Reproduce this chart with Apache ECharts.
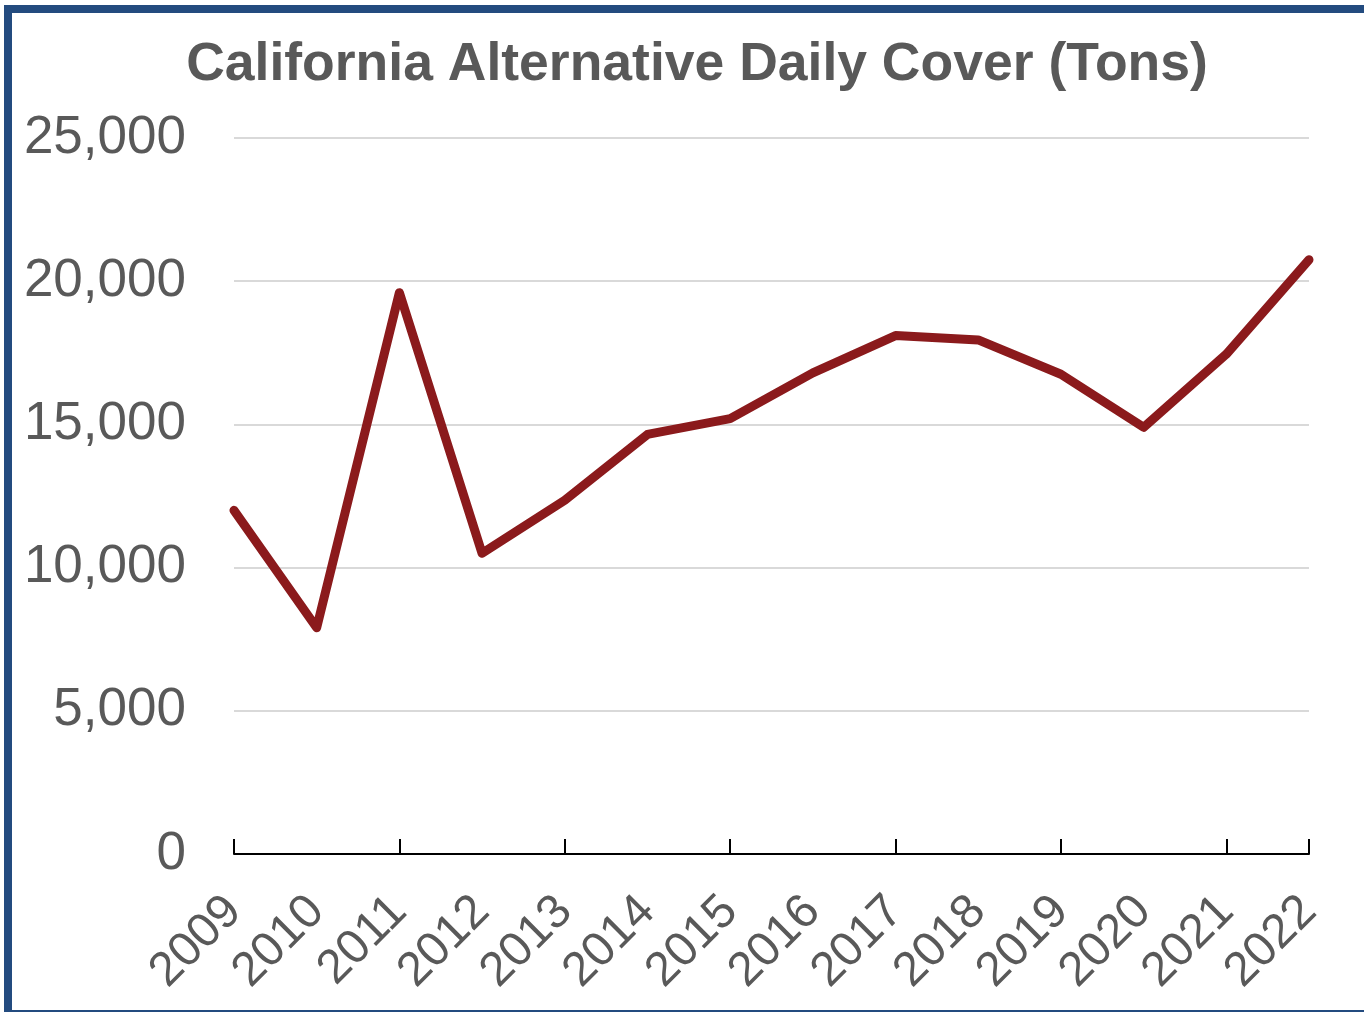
<!DOCTYPE html>
<html>
<head>
<meta charset="utf-8">
<script src="https://cdn.jsdelivr.net/npm/echarts@6/dist/echarts.min.js"></script>
<style>
html,body{margin:0;padding:0;background:#fff;overflow:hidden;width:1364px;height:1012px;}
#frame{position:absolute;left:4px;top:5px;width:1360px;height:1013px;border:8px solid #234B7F;border-right-width:0;box-sizing:border-box;}
#chart{position:absolute;left:0;top:0;width:1364px;height:1012px;}
</style>
</head>
<body>
<div id="frame"></div>
<div id="chart"></div>
<script>
const years = ['2009','2010','2011','2012','2013','2014','2015','2016','2017','2018','2019','2020','2021','2022'];
const tons = [12000, 7900, 19600, 10500, 12350, 14650, 15200, 16800, 18100, 17950, 16750, 14900, 17450, 20750];
const yTicks = [0, 5000, 10000, 15000, 20000, 25000];

const chart = echarts.init(document.getElementById('chart'), null, {renderer: 'canvas'});
chart.setOption({
  backgroundColor: 'transparent',
  animation: false,
  title: {
    text: 'California Alternative Daily Cover (Tons)',
    left: 692, textAlign: 'center', top: 33,
    textStyle: {fontFamily: 'Liberation Sans, Arial, sans-serif', fontWeight: 'bold', fontSize: 53.5, color: '#595959'}
  },
  grid: {left: 234, right: 55, top: 138, bottom: 158, containLabel: false},
  xAxis: {
    type: 'category', data: years, boundaryGap: false,
    axisLine: {lineStyle: {color: '#000', width: 2}},
    axisTick: {show: true, inside: true, length: 15, interval: 1, lineStyle: {color: '#000', width: 2}},
    axisLabel: {interval: 0, rotate: 45, margin: 50, fontFamily: 'Liberation Sans, Arial, sans-serif', fontSize: 48, color: '#595959'},
    splitLine: {show: false}
  },
  yAxis: {
    type: 'value', min: yTicks[0], max: yTicks[yTicks.length-1], interval: 5000,
    axisLine: {show: false}, axisTick: {show: false},
    axisLabel: {margin: 48, fontFamily: 'Liberation Sans, Arial, sans-serif', fontSize: 53, color: '#595959',
      formatter: v => v.toLocaleString('en-US')},
    splitLine: {lineStyle: {color: '#D9D9D9', width: 2}}
  },
  series: [{
    type: 'line', data: tons, symbol: 'none',
    lineStyle: {color: '#8B1A1C', width: 9, cap: 'round', join: 'round'}
  }]
});
</script>
</body>
</html>
